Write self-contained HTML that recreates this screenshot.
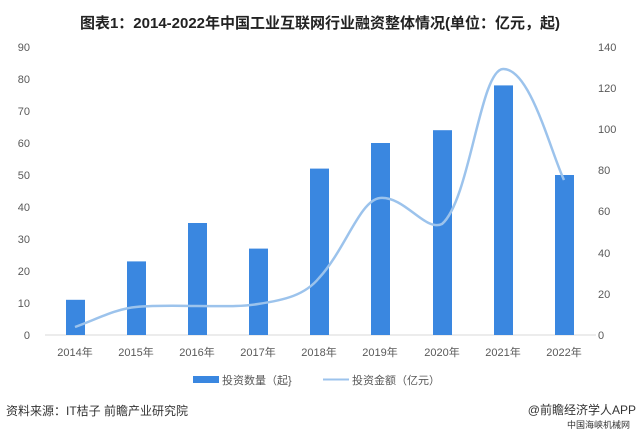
<!DOCTYPE html>
<html><head><meta charset="utf-8"><style>
body{margin:0;background:#fff;width:640px;height:433px;overflow:hidden;font-family:"Liberation Sans","Noto Sans CJK SC",sans-serif;}
</style></head><body>
<svg width="640" height="433" xmlns="http://www.w3.org/2000/svg" font-family="Liberation Sans, Noto Sans CJK SC, sans-serif">
<text x="320" y="28" text-anchor="middle" font-size="15" font-weight="bold" fill="#222">图表1：2014-2022年中国工业互联网行业融资整体情况(单位：亿元，起)</text>
<g font-size="11" fill="#595959">
<text x="30" y="51" text-anchor="end">90</text>
<text x="30" y="83" text-anchor="end">80</text>
<text x="30" y="115" text-anchor="end">70</text>
<text x="30" y="147" text-anchor="end">60</text>
<text x="30" y="179" text-anchor="end">50</text>
<text x="30" y="211" text-anchor="end">40</text>
<text x="30" y="243" text-anchor="end">30</text>
<text x="30" y="275" text-anchor="end">20</text>
<text x="30" y="307" text-anchor="end">10</text>
<text x="30" y="339" text-anchor="end">0</text>
<text x="598" y="51">140</text>
<text x="598" y="92">120</text>
<text x="598" y="133">100</text>
<text x="598" y="174">80</text>
<text x="598" y="215">60</text>
<text x="598" y="257">40</text>
<text x="598" y="298">20</text>
<text x="598" y="339">0</text>
</g>
<line x1="45" y1="335" x2="596" y2="335" stroke="#d9d9d9"/>
<g fill="#3a87e0">
<rect x="66" y="299.8" width="19" height="35.2"/>
<rect x="127" y="261.4" width="19" height="73.6"/>
<rect x="188" y="223" width="19" height="112"/>
<rect x="249" y="248.6" width="19" height="86.4"/>
<rect x="310" y="168.6" width="19" height="166.4"/>
<rect x="371" y="143" width="19" height="192"/>
<rect x="433" y="130.2" width="19" height="204.8"/>
<rect x="494" y="85.4" width="19" height="249.6"/>
<rect x="555" y="175" width="19" height="160"/>
</g>
<path d="M75,327 C95,320 115,309 136,307 C160,305 180,306 197,306 C220,306 240,307 258,304 C285,300 305,295 319,278 C345,250 360,200 380,198 C405,196 425,232 442,224 C470,200 480,70 503,69 C530,68 550,150 564,180" fill="none" stroke="#9cc3ec" stroke-width="2.5"/>
<g font-size="11" fill="#595959" text-anchor="middle">
<text x="75" y="356">2014年</text>
<text x="136" y="356">2015年</text>
<text x="197" y="356">2016年</text>
<text x="258" y="356">2017年</text>
<text x="319" y="356">2018年</text>
<text x="380" y="356">2019年</text>
<text x="442" y="356">2020年</text>
<text x="503" y="356">2021年</text>
<text x="564" y="356">2022年</text>
</g>
<rect x="193" y="376" width="26" height="7" fill="#3a87e0"/>
<text x="222" y="384" font-size="11" fill="#595959">投资数量（起}</text>
<line x1="323" y1="379.5" x2="349" y2="379.5" stroke="#9cc3ec" stroke-width="2"/>
<text x="352" y="384" font-size="11" fill="#595959">投资金额（亿元）</text>
<text x="6" y="415" font-size="12" fill="#333">资料来源：IT桔子 前瞻产业研究院</text>
<text x="636" y="414" font-size="12" fill="#333" text-anchor="end">@前瞻经济学人APP</text>
<text x="630" y="428" font-size="9" fill="#333" text-anchor="end">中国海峡机械网</text>
</svg>
</body></html>
